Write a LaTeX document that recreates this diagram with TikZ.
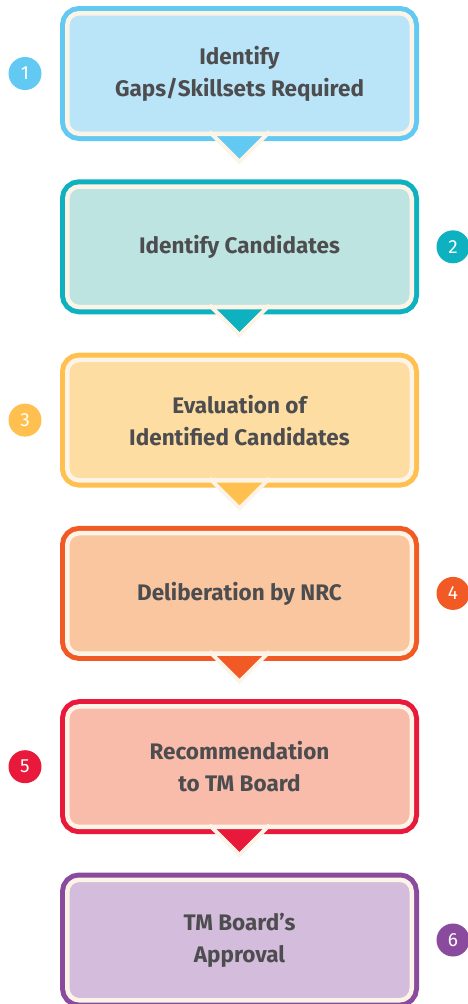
\documentclass[tikz,border=0pt]{standalone}
\usepackage{fontspec}
\setmainfont{Fira Sans}
\usetikzlibrary{calc}
\definecolor{cream}{HTML}{FDF4E8}
\definecolor{txt}{HTML}{4D4D4F}
\definecolor{bA}{HTML}{62C9F2}\definecolor{fA}{HTML}{BAE5F8}
\definecolor{bB}{HTML}{0DB1BF}\definecolor{fB}{HTML}{BDE4E1}
\definecolor{bC}{HTML}{FFC04F}\definecolor{fC}{HTML}{FEDDA2}
\definecolor{bD}{HTML}{F15A24}\definecolor{fD}{HTML}{F9C6A0}
\definecolor{bE}{HTML}{E8193A}\definecolor{fE}{HTML}{F9BCAB}
\definecolor{bF}{HTML}{8A4A9D}\definecolor{fF}{HTML}{D4BCDC}
\tikzset{
  stepbox/.style 2 args={preaction={draw=#1, line width=14.5pt},
    fill=#2, draw=cream, line width=4.5pt, rounded corners=12pt,
    minimum width=344.5pt, minimum height=120.5pt, inner sep=0pt, outer sep=0pt,
    align=center, text=txt, font=\fontsize{22.5}{32}\selectfont\bfseries},
  numc/.style={circle, fill=#1, minimum size=33pt, inner sep=0pt, text=white,
    font=\fontsize{19}{20}\selectfont},
}
\newcommand{\pointer}[2]{%
  \fill[#2] ($(#1.south)+(-22.5,3.25)$) -- ($(#1.south)+(22.5,3.25)$) -- ($(#1.south)+(0,25.25)$) -- cycle;
  \draw[cream, line width=4pt, line join=miter] ($(#1.south)+(-30,-2)$) -- ($(#1.south)+(0,28)$) -- ($(#1.south)+(30,-2)$);
}
\begin{document}
\begin{tikzpicture}[x=1pt,y=-1pt]
\useasboundingbox (0,0) rectangle (468,1004);
\node[stepbox={bA}{fA}] (b1) at (239.5,73.5) {Identify\\Gaps/Skillsets Required};
\node[stepbox={bB}{fB}] (b2) at (239.5,246.8) {Identify Candidates};
\node[stepbox={bC}{fC}] (b3) at (239.5,420.1) {Evaluation of\\Identified Candidates};
\node[stepbox={bD}{fD}] (b4) at (239.5,593.4) {Deliberation by NRC};
\node[stepbox={bE}{fE}] (b5) at (239.5,766.7) {Recommendation\\to TM Board};
\node[stepbox={bF}{fF}] (b6) at (239.5,940.0) {TM Board’s\\Approval};
\pointer{b1}{bA}
\pointer{b2}{bB}
\pointer{b3}{bC}
\pointer{b4}{bD}
\pointer{b5}{bE}
\node[numc=bA] (n1) at (25,73.5) {1};
\node[numc=bB] (n2) at (453,246.8) {2};
\node[numc=bC] (n3) at (25,420.1) {3};
\node[numc=bD] (n4) at (453,593.4) {4};
\node[numc=bE] (n5) at (25,766.7) {5};
\node[numc=bF] (n6) at (453,940.0) {6};
\end{tikzpicture}
\end{document}
